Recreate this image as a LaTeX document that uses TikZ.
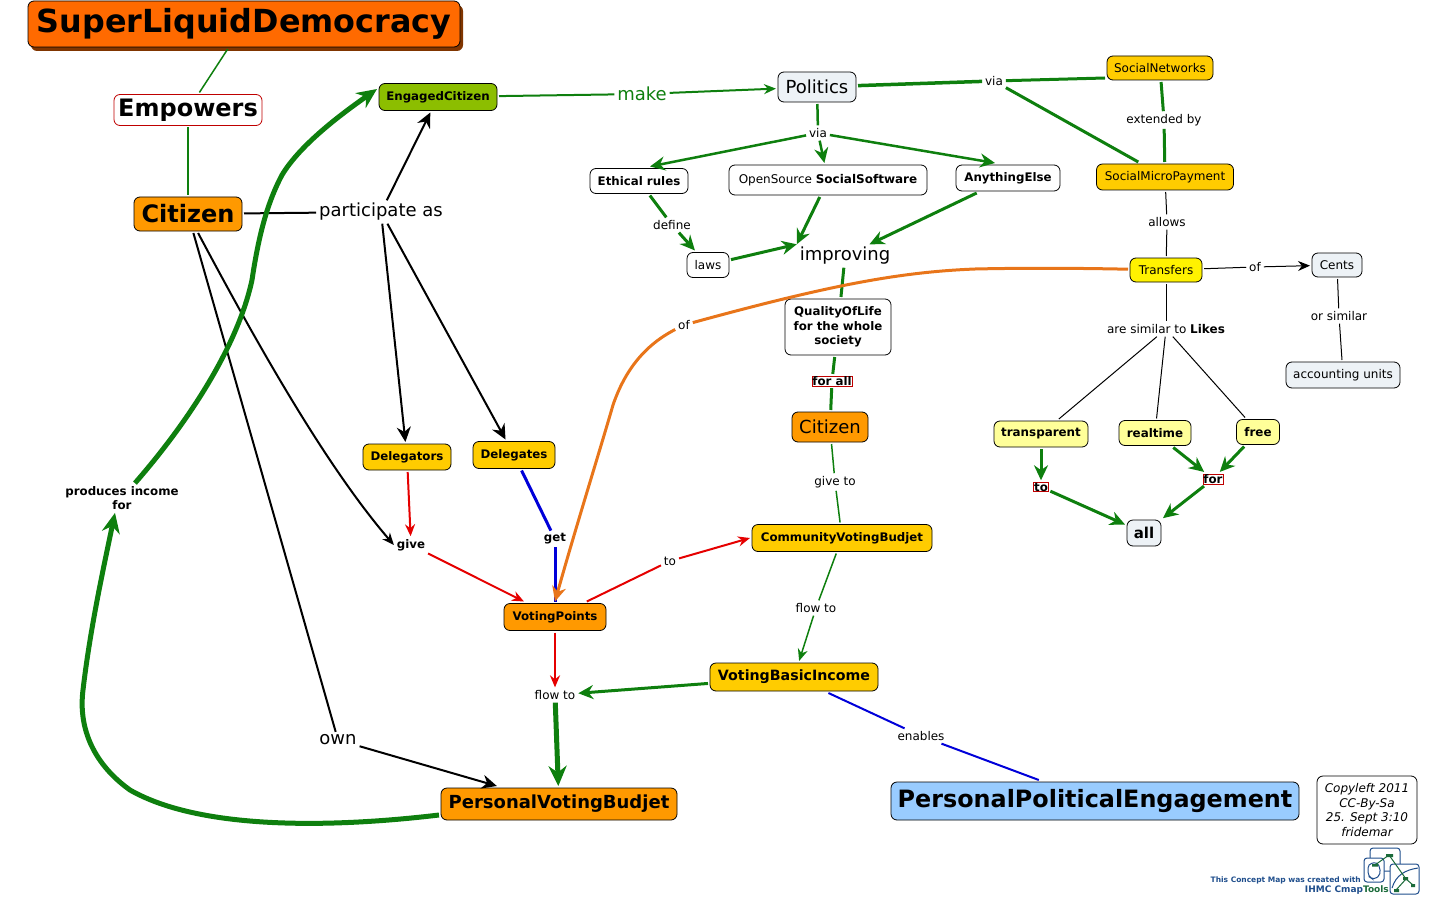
\documentclass[tikz,border=0pt]{standalone}
\usepackage{fontspec}
\setmainfont{DejaVu Sans}
\usetikzlibrary{arrows.meta,shadows}
\definecolor{mapgreen}{HTML}{0E7F0E}
\definecolor{maporange}{HTML}{E8751A}
\definecolor{titlefill}{HTML}{FF6A00}
\definecolor{citfill}{HTML}{FF9900}
\definecolor{goldfill}{HTML}{FFCC00}
\definecolor{palefill}{HTML}{FFFF99}
\definecolor{icefill}{HTML}{EDF2F6}
\definecolor{bluefill}{HTML}{99CCFF}
\definecolor{limefill}{HTML}{8CBE00}
\definecolor{logoblue}{HTML}{1F4E8C}
\definecolor{logogreen}{HTML}{1B6B3A}
\newcommand{\fs}[1]{\fontsize{#1}{14.6}\selectfont}
\tikzset{
	x=1pt, y=-1pt,
	box/.style 2 args={draw=black, line width=0.8pt, rounded corners=6pt, inner sep=0pt, outer sep=2pt, minimum width=#1pt, minimum height=#2pt, align=center},
	lbl/.style={inner sep=1pt, outer sep=2pt, align=center, yshift=-1pt},
	redlbl/.style={draw=red!75!black, line width=0.8pt, inner sep=0.5pt, outer sep=2pt},
	tipA/.style={-{Stealth[length=12pt,width=10pt]}},
	tipB/.style={-{Stealth[length=15pt,width=14pt]}},
	tipC/.style={-{Stealth[length=20pt,width=18pt]}},
}
\begin{document}
\begin{tikzpicture}
	\useasboundingbox (0,0) rectangle (1450,912);
	%%%%% nodes left %%%%%
	\node[box={432}{46}, fill=titlefill, drop shadow={shadow xshift=3pt, shadow yshift=-4pt, fill=black!50!titlefill, opacity=1}, font=\fs{31.8}\bfseries] (title) at (244,24) {SuperLiquidDemocracy};
	\node[box={148}{31}, draw=red!75!black, fill=white, font=\fs{24}\bfseries] (empowers) at (188,110) {Empowers};
	\node[box={108}{34}, fill=citfill, font=\fs{24}\bfseries] (citizenA) at (188,214) {Citizen};
	\node[box={118}{27}, fill=limefill, font=\fs{11.8}\bfseries] (engaged) at (438,97) {EngagedCitizen};
	\node[lbl, font=\fs{18}] (participate) at (381,211) {participate as};
	\node[box={88}{26}, fill=goldfill, font=\fs{11.8}\bfseries] (delegators) at (407,457) {Delegators};
	\node[box={82}{27}, fill=goldfill, font=\fs{11.8}\bfseries] (delegates) at (514,455) {Delegates};
	\node[lbl, font=\fs{11.8}\bfseries] (give) at (411,544) {give};
	\node[lbl, font=\fs{11.8}\bfseries] (get) at (555,538) {get};
	\node[box={102}{27}, fill=citfill, font=\fs{11.8}\bfseries] (points) at (555,617) {VotingPoints};
	\node[lbl, font=\fs{12}] (toA) at (670,560) {to};
	\node[lbl, font=\fs{12}] (flowA) at (555,694) {flow to};
	\node[box={236}{32}, fill=citfill, font=\fs{18}\bfseries] (budjet) at (559,804) {PersonalVotingBudjet};
	\node[lbl, font=\fs{18}] (own) at (338,739) {own};
	\node[lbl, font=\fs{11.8}\bfseries] (produces) at (122,497) {produces income\\for};
	\node[lbl, font=\fs{12}] (ofB) at (684,324) {of};
	%%%%% nodes middle %%%%%
	\node[lbl, text=mapgreen, font=\fs{18}] (make) at (642,93) {make};
	\node[box={78}{30}, fill=icefill, font=\fs{18}] (politics) at (817,87) {Politics};
	\node[lbl, font=\fs{12}] (viaA) at (994,80) {via};
	\node[lbl, font=\fs{12}] (viaB) at (818,132) {via};
	\node[box={98}{25}, fill=white, font=\fs{11.8}\bfseries] (ethical) at (639,181) {Ethical rules};
	\node[box={198}{30}, fill=white, font=\fs{12}] (open) at (828,180) {OpenSource \textbf{SocialSoftware}};
	\node[box={104}{26}, fill=white, font=\fs{11.8}\bfseries] (anything) at (1008,178) {AnythingElse};
	\node[lbl, font=\fs{12}] (define) at (672,224) {define};
	\node[box={42}{25}, fill=white, font=\fs{12}] (laws) at (708,265) {laws};
	\node[lbl, font=\fs{18}] (improving) at (845,255) {improving};
	\node[box={106}{56}, fill=white, font=\fs{11.8}\bfseries] (quality) at (838,327) {QualityOfLife\\for the whole\\society};
	\node[redlbl, font=\fs{11.8}\bfseries] (forall) at (832,381) {for all};
	\node[box={76}{30}, fill=citfill, font=\fs{18}] (citizenB) at (830,427) {Citizen};
	\node[lbl, font=\fs{12}] (giveto) at (835,481) {give to};
	\node[box={180}{27}, fill=goldfill, font=\fs{11.8}\bfseries] (community) at (842,538) {CommunityVotingBudjet};
	\node[lbl, font=\fs{12}] (flowB) at (816,607) {flow to};
	\node[box={168}{28}, fill=goldfill, font=\fs{14.2}\bfseries] (income) at (794,677) {VotingBasicIncome};
	\node[lbl, font=\fs{12}] (enables) at (921,735) {enables};
	\node[box={408}{38}, fill=bluefill, font=\fs{23.85}\bfseries] (engagement) at (1095,801) {PersonalPoliticalEngagement};
	\node[box={100}{68}, font=\fs{12}\itshape] (copyleft) at (1367,810) {Copyleft 2011\\CC-By-Sa\\25. Sept 3:10\\fridemar};
	%%%%% nodes right %%%%%
	\node[box={106}{24}, fill=goldfill, font=\fs{12}] (networks) at (1160,68) {SocialNetworks};
	\node[lbl, font=\fs{12}] (extended) at (1164,119) {extended by};
	\node[box={137}{26}, fill=goldfill, font=\fs{12}] (micro) at (1165,177) {SocialMicroPayment};
	\node[lbl, font=\fs{12}] (allows) at (1167,221) {allows};
	\node[box={72}{24}, fill=yellow, font=\fs{12}] (transfers) at (1166,270) {Transfers};
	\node[lbl, font=\fs{12}] (ofA) at (1255,266) {of};
	\node[box={50}{24}, fill=icefill, font=\fs{12}] (cents) at (1337,265) {Cents};
	\node[lbl, font=\fs{12}] (orsimilar) at (1339,315) {or similar};
	\node[box={114}{26}, fill=icefill, font=\fs{12}] (units) at (1343,375) {accounting units};
	\node[lbl, font=\fs{12}] (similar) at (1166,328) {are similar to \textbf{Likes}};
	\node[box={94}{26}, fill=palefill, font=\fs{11.9}\bfseries] (transparent) at (1041,434) {transparent};
	\node[box={72}{25}, fill=palefill, font=\fs{11.9}\bfseries] (realtime) at (1155,433) {realtime};
	\node[box={43}{25}, fill=palefill, font=\fs{11.9}\bfseries] (free) at (1258,432) {free};
	\node[redlbl, font=\fs{11.8}\bfseries] (toB) at (1041,487) {to};
	\node[redlbl, font=\fs{11.8}\bfseries] (for) at (1213,479) {for};
	\node[box={34}{26}, fill=icefill, font=\fs{15}\bfseries] (all) at (1144,533) {all};
	%%%%% connectors left %%%%%
	\draw[mapgreen, line width=1.5pt] (title) -- (empowers);
	\draw[mapgreen, line width=1.5pt] (empowers) -- (citizenA);
	\draw[line width=2pt] (citizenA) -- (participate);
	\draw[line width=2pt, tipB] (participate) -- (engaged);
	\draw[line width=2pt, tipB] (participate) -- (delegators);
	\draw[line width=2pt, tipB] (participate) -- (delegates);
	\draw[line width=2pt, tipA] (citizenA) .. controls (255,340) and (325,465) .. (give.west);
	\draw[line width=2pt] (citizenA) -- (own);
	\draw[line width=2pt, tipB] (own) -- (budjet);
	\draw[red!90!black, line width=2pt, tipA] (delegators) -- (give);
	\draw[red!90!black, line width=2pt, tipA] (give) -- (points);
	\draw[blue!85!black, line width=3pt] (delegates) -- (get);
	\draw[blue!85!black, line width=3pt] (get) -- (points);
	\draw[red!90!black, line width=2pt] (points) -- (toA);
	\draw[red!90!black, line width=2pt, tipA] (toA) -- (community.west);
	\draw[red!90!black, line width=2pt, tipA] (points) -- (flowA);
	\draw[mapgreen, line width=5pt, tipC] (flowA) -- (budjet);
	\draw[mapgreen, line width=5pt, tipC] ([yshift=-11pt]budjet.west) .. controls (330,828) and (200,830) .. (130,790) .. controls (95,765) and (78,730) .. (83,690) .. controls (90,630) and (103,570) .. ([xshift=-7pt]produces.south);
	\draw[mapgreen, line width=5pt, tipC] (produces) .. controls (190,420) and (238,345) .. (252,280) .. controls (258,240) and (266,205) .. (282,175) .. controls (300,145) and (340,115) .. ([yshift=8pt]engaged.west);
	%%%%% connectors middle %%%%%
	\draw[mapgreen, line width=2pt] (engaged) -- (make);
	\draw[mapgreen, line width=2pt, tipA] (make) -- (politics);
	\draw[mapgreen, line width=3.5pt] (politics) -- (viaA);
	\draw[mapgreen, line width=3pt] (viaA) -- ([yshift=-10pt]networks.west);
	\draw[mapgreen, line width=3pt] (viaA) -- (micro);
	\draw[mapgreen, line width=2.5pt] (politics) -- (viaB);
	\draw[mapgreen, line width=2.5pt, tipB] (viaB) -- ([xshift=11pt]ethical.north);
	\draw[mapgreen, line width=2.5pt, tipB] (viaB) -- (open);
	\draw[mapgreen, line width=2.5pt, tipB] (viaB) -- ([xshift=-13pt]anything.north);
	\draw[mapgreen, line width=3pt] (ethical) -- (define);
	\draw[mapgreen, line width=3pt, tipB] (define) -- (laws);
	\draw[mapgreen, line width=3pt, tipB] (laws) -- (improving.north west);
	\draw[mapgreen, line width=3pt, tipB] (open) -- (improving.north west);
	\draw[mapgreen, line width=3pt, tipB] (anything) -- (improving);
	\draw[mapgreen, line width=3pt] (improving) -- (quality);
	\draw[mapgreen, line width=3pt] (quality) -- (forall);
	\draw[mapgreen, line width=3pt] (forall) -- (citizenB);
	\draw[mapgreen, line width=1.5pt] (citizenB) -- (giveto);
	\draw[mapgreen, line width=1.5pt] (giveto) -- (community);
	\draw[mapgreen, line width=1.5pt] (community) -- (flowB);
	\draw[mapgreen, line width=1.5pt, tipA] (flowB) -- (income);
	\draw[mapgreen, line width=3pt, tipB] (income) -- (flowA);
	\draw[blue!85!black, line width=2pt] (income) -- (enables);
	\draw[blue!85!black, line width=2pt] (enables) -- (engagement);
	\draw[maporange, line width=3pt] (transfers) .. controls (1070,268) and (1020,268) .. (975,269) .. controls (900,272) and (830,285) .. (ofB);
	\draw[maporange, line width=3pt, tipB] (ofB) .. controls (645,345) and (625,370) .. (613,405) .. controls (600,450) and (575,530) .. (points.north);
	%%%%% connectors right %%%%%
	\draw[mapgreen, line width=3pt] (networks) -- (extended);
	\draw[mapgreen, line width=3pt] (extended) -- (micro);
	\draw[line width=1pt] (micro) -- (allows);
	\draw[line width=1pt] (allows) -- (transfers);
	\draw[line width=1pt] (transfers) -- (ofA);
	\draw[line width=1pt, tipA] (ofA) -- (cents);
	\draw[line width=1pt] (cents) -- (orsimilar);
	\draw[line width=1pt] (orsimilar) -- (units);
	\draw[line width=1pt] (transfers) -- (similar);
	\draw[line width=1pt] (similar) -- (transparent);
	\draw[line width=1pt] (similar) -- (realtime);
	\draw[line width=1pt] (similar) -- (free);
	\draw[mapgreen, line width=3pt, tipB] (transparent) -- (toB);
	\draw[mapgreen, line width=3pt, tipB] (toB) -- (all);
	\draw[mapgreen, line width=3pt, tipB] (realtime) -- (for);
	\draw[mapgreen, line width=3pt, tipB] (free) -- (for);
	\draw[mapgreen, line width=3pt, tipB] (for) -- (all);
	%%%%% logo %%%%%
	\node[anchor=east, inner sep=0pt, text=logoblue, font=\fs{7.5}\bfseries] (madewith) at (1361,880) {This Concept Map was created with};
	\node[anchor=east, inner sep=0pt, text=logoblue, font=\fs{9}\bfseries] (ihmc) at (1389,890) {IHMC Cmap\textcolor{logogreen}{Tools}};
	\draw[logoblue, line width=1pt, rounded corners=3pt] (1370,848) rectangle (1400,871);
	\draw[logoblue, line width=1pt, rounded corners=3pt, fill=white] (1364,858) rectangle (1384,882);
	\draw[logoblue, line width=1pt, rounded corners=3pt, fill=white] (1390,864) rectangle (1419,894);
	\draw[logoblue, line width=1pt, rounded corners=4pt] (1368,864) -- (1378,862) -- (1381,874) -- (1374,880) -- (1368,876) -- cycle;
	\draw[logoblue, line width=1pt] (1392,888) .. controls (1396,875) and (1405,870) .. (1418,868);
	\draw[logogreen, line width=1pt] (1375,865) -- (1389,855) -- (1406,879) -- (1413,885);
	\draw[logogreen, line width=1pt] (1406,879) -- (1396,890);
	\fill[logogreen] (1372,864) rectangle (1378,866.5) (1386,854) rectangle (1393,857) (1403,877) rectangle (1408,880) (1411,884) rectangle (1415,887) (1394,889) rectangle (1399,892);
\end{tikzpicture}
\end{document}
